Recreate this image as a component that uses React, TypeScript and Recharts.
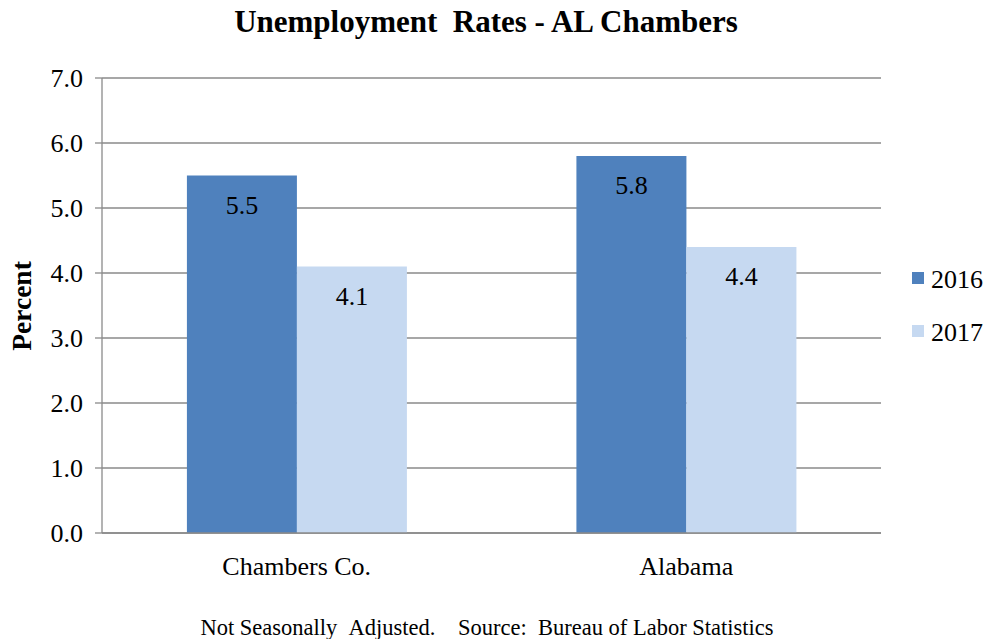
import React from "react";
import { BarChart, Bar, XAxis, YAxis, CartesianGrid, LabelList, Customized } from "recharts";

const categories = ["Chambers Co.", "Alabama"];
const rates2016 = [5.5, 5.8];
const rates2017 = [4.1, 4.4];
const yTicks = [0, 1, 2, 3, 4, 5, 6, 7];
const seriesNames = ["2016", "2017"];
const colors = ["#4f81bd", "#c6d9f1"];

const data = categories.map((c, i) => ({ name: c, s2016: rates2016[i], s2017: rates2017[i] }));

const FONT = "'Liberation Serif', 'Times New Roman', Times, 'DejaVu Serif', serif";
const GRID = "#8a8a8a";

const XTick = (props: any) => {
  const { x, y, payload } = props;
  return (
    <text x={x} y={y + 42} textAnchor="middle" style={{ fontFamily: FONT, fontSize: 26, fill: "#000" }}>
      {payload.value}
    </text>
  );
};

const YTick = (props: any) => {
  const { x, y, payload } = props;
  return (
    <text x={x} y={y + 9} textAnchor="end" style={{ fontFamily: FONT, fontSize: 26, fill: "#000" }}>
      {Number(payload.value).toFixed(1)}
    </text>
  );
};

const BarLabel = (props: any) => {
  const { x, y, width, value } = props;
  return (
    <text x={x + width / 2} y={y + 38} textAnchor="middle" style={{ fontFamily: FONT, fontSize: 26, fill: "#000" }}>
      {Number(value).toFixed(1)}
    </text>
  );
};

const Texts = () => (
  <g fill="#000">
    <text x={486} y={32} textAnchor="middle" style={{ fontFamily: FONT, fontSize: 31, fontWeight: "bold" }}>
      Unemployment&#160;&#160;Rates - AL Chambers
    </text>
    <text x={31} y={306} textAnchor="middle" style={{ fontFamily: FONT, fontSize: 27.5, fontWeight: "bold" }} transform="rotate(-90 31 306)">
      Percent
    </text>
    <text x={487} y={635} textAnchor="middle" style={{ fontFamily: FONT, fontSize: 22.5 }}>
      Not Seasonally&#160;&#160;Adjusted.&#160;&#160;&#160;&#160;Source:&#160;&#160;Bureau of Labor Statistics
    </text>
    {seriesNames.map((n, i) => (
      <g key={n}>
        <rect x={912} y={272 + i * 53} width={12} height={12} fill={colors[i]} />
        <text x={931} y={288 + i * 53} style={{ fontFamily: FONT, fontSize: 26 }}>
          {n}
        </text>
      </g>
    ))}
  </g>
);

export default function App() {
  return (
    <div style={{ position: "absolute", left: 0, top: 0, width: 985, height: 639, background: "#fff", fontFamily: FONT }}>
      <BarChart
        width={985}
        height={639}
        data={data}
        margin={{ top: 78, right: 104, bottom: 76, left: 0 }}
        barCategoryGap="21.8%"
        barGap={0}
      >
        <CartesianGrid vertical={false} stroke={GRID} strokeWidth={1.3} />
        <XAxis
          dataKey="name"
          height={30}
          tickLine={false}
          axisLine={{ stroke: GRID, strokeWidth: 1.3 }}
          tickSize={0}
          tickMargin={0}
          tick={<XTick />}
        />
        <YAxis
          width={102}
          domain={[0, 7]}
          ticks={yTicks}
          interval={0}
          axisLine={{ stroke: GRID, strokeWidth: 1.3 }}
          tickLine={{ stroke: GRID, strokeWidth: 1.3 }}
          tickSize={7}
          tickMargin={12}
          tick={<YTick />}
        />
        <Bar dataKey="s2016" name={seriesNames[0]} fill={colors[0]} isAnimationActive={false}>
          <LabelList dataKey="s2016" content={<BarLabel />} />
        </Bar>
        <Bar dataKey="s2017" name={seriesNames[1]} fill={colors[1]} isAnimationActive={false}>
          <LabelList dataKey="s2017" content={<BarLabel />} />
        </Bar>
        <Customized component={Texts} />
      </BarChart>
    </div>
  );
}
